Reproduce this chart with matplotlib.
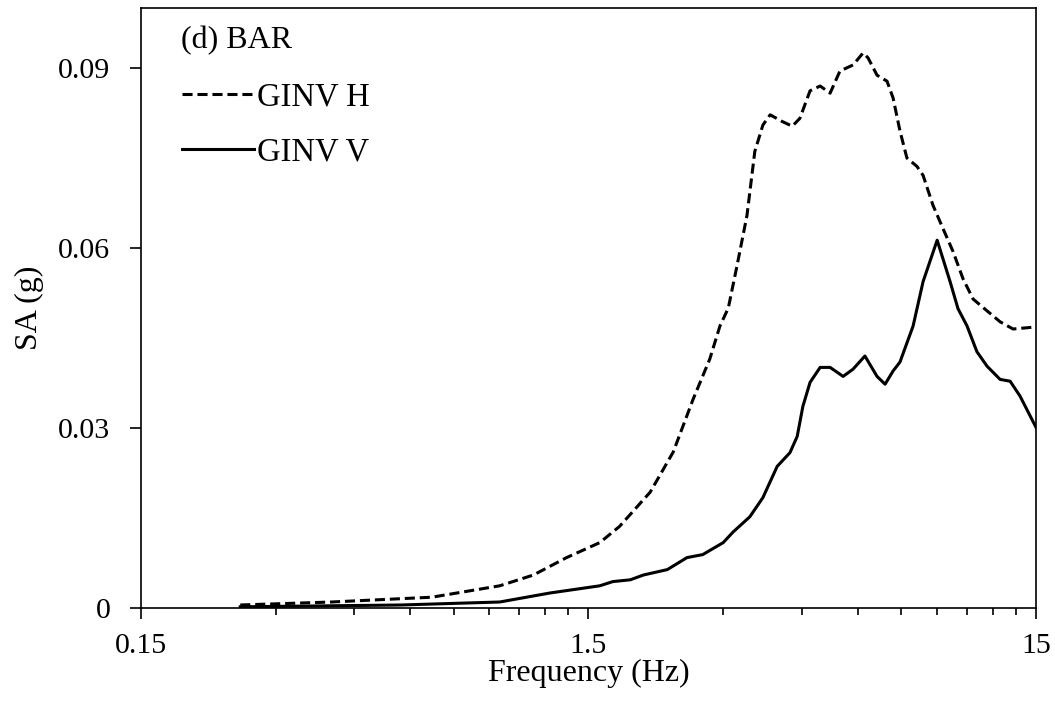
import matplotlib
matplotlib.use('Agg')
import matplotlib.pyplot as plt
from matplotlib.ticker import FixedLocator, NullFormatter
from matplotlib.lines import Line2D

# frequency (Hz) and spectral acceleration (g)
freq_h = [0.25, 0.40, 0.67, 0.95, 1.13, 1.34, 1.59, 1.76, 2.06, 2.32, 2.57, 2.80, 2.95,
          3.08, 3.22, 3.39, 3.53, 3.68, 3.82, 4.06, 4.28, 4.45, 4.69, 4.94, 5.20, 5.47,
          5.85, 6.16, 6.32, 6.62, 6.97, 7.19, 7.45, 7.72, 8.13, 8.39, 8.83, 9.30, 9.79,
          10.30, 10.85, 11.5, 12.47, 13.33, 14.77, 15.0]
sa_h = [0.0005, 0.0010, 0.0018, 0.0037, 0.0055, 0.0084, 0.0109, 0.0136, 0.0193, 0.0260,
        0.0348, 0.0415, 0.0470, 0.0500, 0.0570, 0.0654, 0.0761, 0.0805, 0.0822, 0.0811,
        0.0803, 0.0816, 0.0862, 0.0870, 0.0858, 0.0895, 0.0905, 0.0925, 0.0917, 0.0888,
        0.0878, 0.0850, 0.0795, 0.0750, 0.0736, 0.0721, 0.0671, 0.0632, 0.0594, 0.0549,
        0.0515, 0.0499, 0.0477, 0.0465, 0.0468, 0.0468]

freq_v = [0.25, 0.57, 0.95, 1.23, 1.59, 1.70, 1.86, 1.99, 2.25, 2.49, 2.70, 3.00, 3.16,
          3.44, 3.68, 3.96, 4.23, 4.39, 4.52, 4.69, 4.94, 5.20, 5.56, 5.85, 6.22, 6.62,
          6.90, 7.19, 7.45, 7.97, 8.39, 9.02, 9.64, 10.04, 10.52, 11.07, 11.66, 12.47,
          13.13, 13.82, 15.0]
sa_v = [0.0002, 0.0005, 0.0010, 0.0025, 0.0037, 0.0044, 0.0047, 0.0055, 0.0064, 0.0084,
        0.0089, 0.0109, 0.0127, 0.0152, 0.0184, 0.0236, 0.0259, 0.0286, 0.0336, 0.0376,
        0.0401, 0.0401, 0.0386, 0.0398, 0.0420, 0.0386, 0.0373, 0.0395, 0.0410, 0.0470,
        0.0544, 0.0613, 0.0544, 0.0499, 0.0470, 0.0427, 0.0403, 0.0381, 0.0378, 0.0353,
        0.0301]

x_major = [0.15, 1.5, 15]
x_labels = ['0.15', '1.5', '15']
y_major = [0, 0.03, 0.06, 0.09]
y_labels = ['0', '0.03', '0.06', '0.09']

plt.rcParams['font.family'] = ['Liberation Serif', 'DejaVu Serif']
plt.rcParams['font.size'] = 23

fig = plt.figure(figsize=(10.55, 7.02), dpi=100)
ax = fig.add_axes([0.1336, 0.1339, 0.8484, 0.8547])

ax.plot(freq_h, sa_h, color='black', lw=2.2, linestyle=(0, (3.3, 1.6)),
        solid_joinstyle='round', dash_joinstyle='round')
ax.plot(freq_v, sa_v, color='black', lw=2.2, solid_joinstyle='round')

ax.set_xscale('log')
ax.set_xlim(0.15, 15)
ax.set_ylim(0, 0.1)

ax.xaxis.set_major_locator(FixedLocator(x_major))
ax.set_xticklabels(x_labels)
minor = [0.15 * k for k in range(2, 10)] + [1.5 * k for k in range(2, 10)]
ax.xaxis.set_minor_locator(FixedLocator(minor))
ax.xaxis.set_minor_formatter(NullFormatter())
ax.set_yticks(y_major)
ax.set_yticklabels(y_labels)

ax.tick_params(axis='both', which='major', direction='out', length=8, width=1.2,
               labelsize=21.5)
ax.tick_params(axis='x', which='major', pad=10)
ax.tick_params(axis='y', which='major', pad=14)
ax.tick_params(axis='x', which='minor', direction='out', length=5, width=1.2)
for s in ax.spines.values():
    s.set_linewidth(1.2)

ax.set_xlabel('Frequency (Hz)', labelpad=0)
ax.set_ylabel('SA (g)', labelpad=10)

ax.text(0.045, 0.97, '(d) BAR', transform=ax.transAxes, ha='left', va='top')

handles = [Line2D([], [], color='black', lw=2.2, linestyle=(0, (3.3, 1.6))),
           Line2D([], [], color='black', lw=2.2)]
ax.legend(handles, ['GINV H', 'GINV V'], loc='upper left',
          bbox_to_anchor=(0.046, 0.877), frameon=False, handlelength=2.2,
          handletextpad=0.1, labelspacing=0.75, borderpad=0, borderaxespad=0,
          fontsize=23.5)

fig.savefig('out.png', dpi=100)
